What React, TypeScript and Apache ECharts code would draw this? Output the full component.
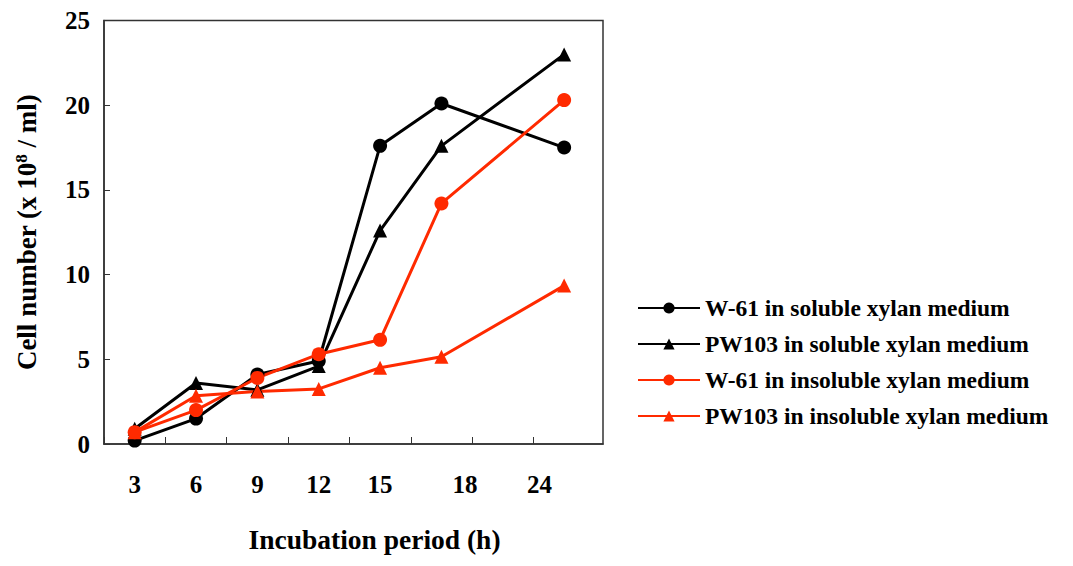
import React, { useEffect, useRef } from "react";
import * as echarts from "echarts";

const hours = [3, 6, 9, 12, 15, 18, 24];
const w61Soluble = [0.2, 1.5, 4.1, 4.9, 17.6, 20.1, 17.5];
const pw103Soluble = [0.9, 3.6, 3.2, 4.6, 12.6, 17.6, 23.0];
const w61Insoluble = [0.7, 2.0, 3.9, 5.3, 6.15, 14.2, 20.3];
const pw103Insoluble = [0.7, 2.85, 3.1, 3.25, 4.5, 5.15, 9.35];

const seriesNames = [
  "W-61 in soluble xylan medium",
  "PW103 in soluble xylan medium",
  "W-61 in insoluble xylan medium",
  "PW103 in insoluble xylan medium",
];

const xTickLabels = ["3", "6", "9", "12", "15", "18", "24"];
const xLabelSlots = [3, 6, 9, 12, 15, 19.15, 22.8];
const xTickSlots = [1.5, 4.5, 7.5, 10.5, 13.5, 16.5, 19.5, 22.5];

const FONT = "'Liberation Serif', 'Times New Roman', serif";
const RED = "#ff2a00";
const BLACK = "#000000";

export default function App() {
  const ref = useRef<HTMLDivElement>(null);
  useEffect(() => {
    if (!ref.current) return;
    const chart = echarts.init(ref.current, undefined, { renderer: "svg" });
    const mk = (name: string, vals: number[], color: string, symbol: string, size: number) => ({
      name,
      type: "line",
      data: hours.map((h, i) => [h, vals[i]]),
      symbol,
      symbolSize: size,
      clip: false,
      lineStyle: { color, width: 3 },
      itemStyle: { color, borderWidth: 0 },
    });
    chart.setOption({
      animation: false,
      backgroundColor: "#ffffff",
      textStyle: { fontFamily: FONT },
      grid: { left: 96, right: 462, top: 6, bottom: 105, show: true, borderColor: "#333", borderWidth: 1.5 },
      legend: {
        orient: "vertical",
        left: 624,
        top: 283,
        itemWidth: 62,
        itemHeight: 14,
        itemGap: 12,
        data: seriesNames,
        textStyle: { fontFamily: FONT, fontWeight: "bold", fontSize: 23.5, color: "#000" },
      },
      xAxis: {
        type: "value",
        min: 1.5,
        max: 25.9,
        name: "Incubation period (h)",
        nameLocation: "middle",
        nameGap: 81,
        nameTextStyle: { fontFamily: FONT, fontWeight: "bold", fontSize: 27.5, color: "#000", padding: [0, 0, 0, 42] },
        splitLine: { show: false },
        axisLine: { lineStyle: { color: "#333", width: 1.5 } },
        axisTick: { inside: true, length: 7, lineStyle: { color: "#333", width: 1 }, customValues: xTickSlots },
        axisLabel: {
          customValues: xLabelSlots,
          margin: 28,
          fontFamily: FONT,
          fontWeight: "bold",
          fontSize: 25,
          color: "#000",
          formatter: (v: number) => {
            const idx = xLabelSlots.findIndex((s) => Math.abs(s - v) < 1e-6);
            return idx >= 0 ? xTickLabels[idx] : "";
          },
        },
      },
      yAxis: {
        type: "value",
        min: 0,
        max: 25,
        interval: 5,
        name: "{a|Cell number (x 10}{s|8}{a| / ml)}",
        nameLocation: "middle",
        nameGap: 64,
        nameRotate: 90,
        nameTextStyle: {
          color: "#000",
          rich: {
            a: { fontFamily: FONT, fontWeight: "bold", fontSize: 27, color: "#000" },
            s: { fontFamily: FONT, fontWeight: "bold", fontSize: 17, color: "#000", verticalAlign: "top", padding: [0, 0, 10, 0] },
          },
        },
        splitLine: { show: false },
        axisLine: { show: true, lineStyle: { color: "#333", width: 1.5 } },
        axisTick: { show: true, inside: true, length: 6, lineStyle: { color: "#333", width: 1 } },
        axisLabel: { margin: 14, fontFamily: FONT, fontWeight: "bold", fontSize: 25, color: "#000" },
      },
      series: [
        mk(seriesNames[0], w61Soluble, BLACK, "circle", 14),
        mk(seriesNames[1], pw103Soluble, BLACK, "triangle", 14),
        mk(seriesNames[2], w61Insoluble, RED, "circle", 14),
        mk(seriesNames[3], pw103Insoluble, RED, "triangle", 14),
      ],
    });
    return () => chart.dispose();
  }, []);
  return <div ref={ref} style={{ width: 1057, height: 550 }} />;
}
